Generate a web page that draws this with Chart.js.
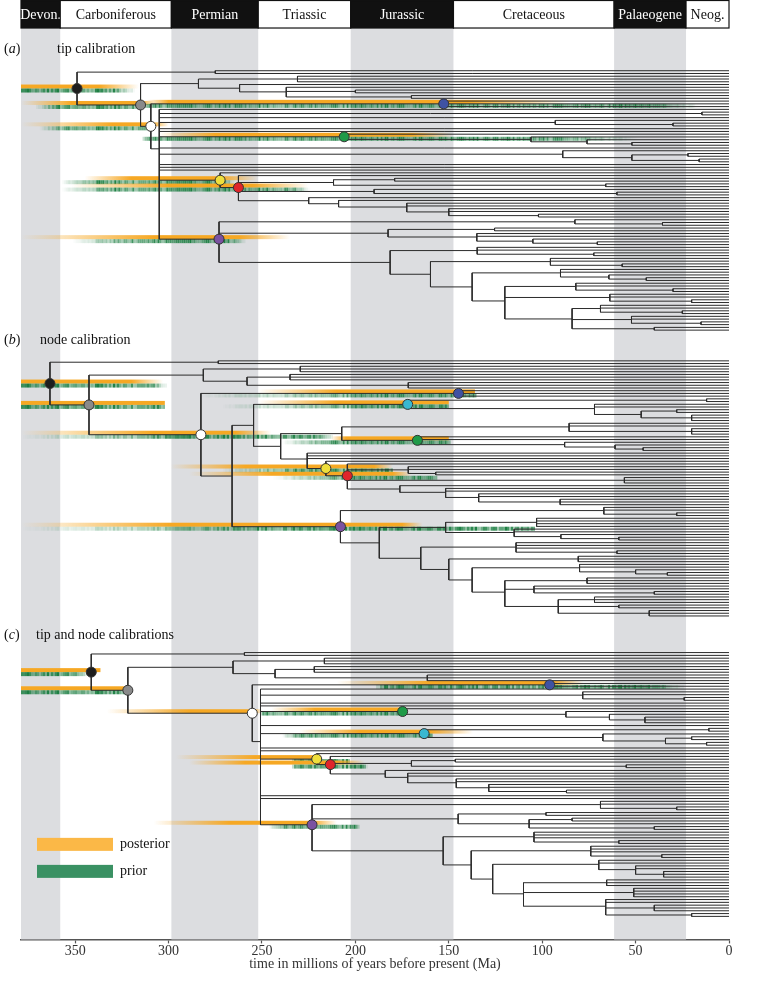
<!DOCTYPE html>
<html>
<head>
<meta charset="utf-8">
<script src="https://cdn.jsdelivr.net/npm/chart.js@4.4.0/dist/chart.umd.min.js"></script>
<style>
  html, body { margin: 0; padding: 0; background: #fff; }
</style>
</head>
<body>
<canvas id="timeTree" width="781" height="981"></canvas>
<script>
// geological periods (Ma, as drawn in the header)
const periodNames = ['Devon.', 'Carboniferous', 'Permian', 'Triassic', 'Jurassic', 'Cretaceous', 'Palaeogene', 'Neog.'];
const periodOld   = [379, 358, 298.5, 252, 202.5, 147.5, 61.5, 23];
const periodYoung = [358, 298.5, 252, 202.5, 147.5, 61.5, 23, 0];
const xTicks = [350, 300, 250, 200, 150, 100, 50, 0];

const panelLetters = ['a', 'b', 'c'];
const panelTitles = ['tip calibration', 'node calibration', 'tip and node calibrations'];

// trees: [node age (Ma), child, child, ...], 0 = extant tip
const treeA = [349,
  [275, 0, 0],
  [315,
    [284, [231, 0, 0, 0], [262, 0, [237, 0, [200, 0, 0], [170, 0, 0]]]],
    [309.5,
      [152.7, 0, 0, 0],
      [305, 0, [14.5, 0, 0], 0, [93, 0, [30, 0, 0]], 0, 0,
        [206, 0, [106, 0, [76, 0, [52, 0, 0]]]],
        0,
        [89, 0, [52, [22, 0, 0], [16, 0, 0]]],
        0, 0, 0,
        [272.4, 0,
          [262.6, 0,
            [211.7, [179, 0, 0], [66, 0, 0]],
            [190, 0, [60, 0, 0]],
            [225, 0, [209, 0, [172.5, 0, 0, [150, 0, 0, [102, 0, 0]]]]]]],
        [273,
          [82.5, 0, [35.6, 0, 0]],
          [182.5, [125.5, 0, 0], [135, 0, 0, [105, 0, [70.5, 0, 0]]]],
          [181.4,
            [134.8, 0, 0, [72.4, 0, 0]],
            [159.8,
              [95.6, 0, 0, [57.2, 0, 0]],
              [137.5,
                [90.2, 0, 0, [64.3, 0, [44.3, 0, 0]]],
                [120,
                  [82, 0, 0, [30, 0, 0]],
                  [63.8, 0, 0, [20, 0, 0]],
                  [84, [68.8, 0, 0, [25, 0, 0]], [52.2, 0, 0, [15, 0, 0]], [40, 0, 0]]]]]]]]]]];

const treeB = [363.5,
  [273.4, 0, 0],
  [342.6,
    [281.4, [229.5, 0, 0, 0], [258, [235, 0, 0, 0], [171.7, 0, 0, 0]]],
    [282.7,
      [144.8, 0, 0, 0],
      [266,
        [254.5,
          [172, [12, 0, 0], [72, 0, 0, [47, [28, 0, 0], [20, 0, 0, 0]]]],
          [240,
            [207.3, [85.6, 0, 0, [20, 0, 0, 0]], [166.8, 0, 0, [88, 0, [61, 0, [46, 0, 0]]]]],
            [225.8, 0, 0, 0,
              [215.8, 0,
                [204.3, 0, [171.7, 0, 0, [157, 0, 0]], [56, 0, 0, 0],
                  [176.2, 0, [151.7, 0, 0, [134, 0, 0, [90.4, 0, 0, 0]]]]]]]]],
        [208,
          [67, 0, 0, [28, 0, 0]],
          [187.2,
            [151.7, [103, 0, 0, 0, 0], [115, 0, 0, [90, 0, [59, 0, 0]]]],
            [165,
              [114, 0, 0, 0, [60, 0, 0]],
              [150,
                [80.7, 0, 0, 0],
                [137.5,
                  [80, 0, 0, [50, 0, [33, 0, 0]]],
                  [120, [76, 0, 0, 0], [104.4, 0, 0, [40, 0, 0]],
                    [91.4, [72, 0, 0, 0], [59, 0, 0], [42.7, 0, 0, 0]]]]]]]]]]]];

const treeC = [341.4,
  [259.4, 0, 0],
  [321.8,
    [265.5, [216.6, 0, 0, 0], [243, [222, 0, 0, 0], [161.5, 0, 0, 0]]],
    [255.2,
      [96, 0, 0],
      [250.8, 0, [78.3, 0, 0, [24, 0, 0]], 0, 0,
        [174.7, 0, [87.3, 0, [64, 0, [45, 0, 0, 0]]]],
        0,
        [163.2, [10.8, 0, 0], [67.5, 0, [34, [20, 0, 0], [12, 0, 0]]]],
        0, 0,
        [220.7, 0,
          [213.4, 0, [170, [146.5, 0, 0], [55, 0, 0]],
            [184, 0, [172, 0, 0, [146, 0, 0, [128.6, 0, 0, [87, 0, 0]]]]]]],
        0, 0,
        [223.2,
          [68.8, 0, 0, [28, 0, 0]],
          [145, [98, 0, 0], [107, [84, 0, 0], 0, [40, 0, 0]]],
          [153,
            [104.4, 0, 0, 0, [59, 0, 0]],
            [138,
              [74, 0, 0, 0, [36, 0, 0]],
              [126.5,
                [69.7, 0, 0, [50, 0, 0, [35, 0, 0, 0]]],
                [110, [65.5, 0, 0, 0], [51, 0, 0, 0, 0], [66, 0, 0, [40, 0, 0, 0], [20, 0, 0]]]]]]]]]]];

// calibrated nodes (ages of the marked nodes, null = not marked in that panel)
const calNames = ['black', 'grey', 'white', 'blue', 'green', 'cyan', 'yellow', 'red', 'purple'];
const calAgeA = [349, 315, 309.5, 152.7, 206, null, 272.4, 262.6, 273];
const calAgeB = [363.5, 342.6, 282.7, 144.8, 166.8, 172, 215.8, 204.3, 208];
const calAgeC = [341.4, 321.8, 255.2, 96, 174.7, 163.2, 220.7, 213.4, 223.2];

// age densities: [fade starts, solid from, solid to, fade ends] in Ma
const postA = [[379,379,337,316],[379,352,314,308],[379,330,309,300],[312,300,140,85],[305,275,170,148],null,[345,320,272,252],[352,300,255,225],[379,308,262,235]];
const priorA = [[379,379,330,318],[372,360,316,314],[370,355,312,309],[315,312,40,17],[315,312,90,50],null,[358,340,272,265],[358,330,235,225],[352,320,268,259]];
const postB = [[379,379,320,303],[379,379,302,302],[379,308,264,245],[252,210,136,136],[213,205,150,150],[252,210,150,150],[299,259,190,180],[289,245,180,170],[379,299,175,164]];
const priorB = [[379,379,310,301],[379,379,302,302],[379,300,220,212],[284,190,136,136],[240,213,150,150],[272,195,150,150],[272,235,180,180],[245,205,157,157],[379,250,104,104]];
const postC = [[379,379,337,336],[379,379,323,322],[333,289,255,250],[210,160,94,78],[245,222,175,172],[230,198,160,137],[296,254,220,218],[289,259,210,195],[308,267,223,210]];
const priorC = [[379,379,350,342],[379,379,323,322],null,[190,185,40,24],[252,250,175,174],[240,230,160,159],[235,232,203,203],[235,232,196,194],[247,240,200,198]];

// layout (design px)
const HEADER = [0.5, 28];
const AXIS_Y = 939;
const panelSpan = [[70.7, 330], [360.7, 615.7], [652.3, 916]];
const panelLabelY = [49, 340, 635];
const panelTitleX = [57, 40, 36];

const SERIF = "'Liberation Serif', 'DejaVu Serif', serif";
const nodeFill = {
  black: '#1e1e1e', grey: '#8a8a8a', white: '#ffffff', blue: '#3f52a3', green: '#1f9a48',
  cyan: '#3ab8d0', yellow: '#efdf3c', red: '#e0242b', purple: '#7b52a1'
};
const ORANGE = [246, 168, 36];
const GREEN = [28, 126, 66];

function tipCount(n) {
  return n === 0 ? 1 : n.slice(1).reduce((s, c) => s + tipCount(c), 0);
}

// lays a tree out: tips evenly spaced, node y = mean of its children
function layoutTree(tree, span) {
  const gap = (span[1] - span[0]) / (tipCount(tree) - 1);
  let row = 0;
  const pts = [], nodes = [];
  const seg = (x1, y1, x2, y2) => pts.push({x: x1, y: y1}, {x: x2, y: y2}, {x: null, y: null});
  (function walk(n, parentAge) {
    let age, y;
    if (n === 0) {
      age = 0;
      y = span[0] + gap * row++;
    } else {
      age = n[0];
      const ys = n.slice(1).map(c => walk(c, age));
      y = ys.reduce((s, v) => s + v, 0) / ys.length;
      seg(age, Math.min(...ys), age, Math.max(...ys));
      nodes.push({age, y});
    }
    if (parentAge !== undefined) seg(age, y, parentAge, y);
    return y;
  })(tree);
  return {pts, nodes};
}

const panels = [
  {tree: treeA, ages: calAgeA, post: postA, prior: priorA},
  {tree: treeB, ages: calAgeB, post: postB, prior: priorB},
  {tree: treeC, ages: calAgeC, post: postC, prior: priorC}
].map((p, i) => {
  const lay = layoutTree(p.tree, panelSpan[i]);
  const marks = [];
  p.ages.forEach((age, k) => {
    if (age === null) return;
    const node = lay.nodes.find(n => n.age === age);
    if (node) marks.push({x: node.age, y: node.y, name: calNames[k], post: p.post[k], prior: p.prior[k]});
  });
  return {pts: lay.pts, marks};
});

const rgba = (c, a) => `rgba(${c[0]},${c[1]},${c[2]},${a})`;
const streak = i => { const s = Math.sin(i * 127.1 + 11.7) * 43758.5453; return s - Math.floor(s); };

function densityBar(ctx, xs, top, h, ages, col, streaky) {
  const p = ages.map(a => xs.getPixelForValue(a));
  const w = p[3] - p[0];
  if (w <= 0) return;
  if (!streaky) {
    const g = ctx.createLinearGradient(p[0], 0, p[3], 0);
    g.addColorStop(0, rgba(col, p[1] > p[0] ? 0 : 1));
    g.addColorStop(Math.min(1, (p[1] - p[0]) / w), rgba(col, 1));
    g.addColorStop(Math.min(1, (p[2] - p[0]) / w), rgba(col, 1));
    g.addColorStop(1, rgba(col, p[3] > p[2] ? 0 : 1));
    ctx.fillStyle = g;
    ctx.fillRect(p[0], top, w, h);
    return;
  }
  for (let px = p[0]; px < p[3]; px += 2) {
    let env = 1;
    if (px < p[1]) env = (px - p[0]) / (p[1] - p[0]);
    else if (px > p[2]) env = (p[3] - px) / (p[3] - p[2]);
    const k = streak(Math.round(px / 2));
    ctx.fillStyle = rgba(col, Math.max(0, env) * (0.4 + 0.6 * k));
    ctx.fillRect(px, top, 2, h);
  }
}

const figurePlugin = {
  id: 'figure',
  beforeDatasetsDraw(chart) {
    const {ctx, chartArea: area, scales: {x, y}} = chart;
    ctx.save();
    // shaded periods
    ctx.fillStyle = '#dcdde0';
    periodOld.forEach((old, i) => {
      if (i % 2) return;
      const l = x.getPixelForValue(old), r = x.getPixelForValue(periodYoung[i]);
      const t = y.getPixelForValue(HEADER[1]);
      ctx.fillRect(l, t, r - l, area.bottom - t);
    });
    // posterior / prior densities
    ctx.beginPath();
    ctx.rect(area.left, area.top, area.right - area.left, area.bottom - area.top);
    ctx.clip();
    panels.forEach(pan => pan.marks.forEach(m => {
      const yy = y.getPixelForValue(m.y);
      if (m.post) densityBar(ctx, x, yy - 4, 4, m.post, ORANGE, false);
      if (m.prior) densityBar(ctx, x, yy, 4, m.prior, GREEN, true);
    }));
    ctx.restore();
  },
  afterDraw(chart) {
    const {ctx, chartArea: area, scales: {x, y}} = chart;
    ctx.save();
    // period header
    const t = y.getPixelForValue(HEADER[0]), b = y.getPixelForValue(HEADER[1]);
    ctx.font = `14px ${SERIF}`;
    ctx.textAlign = 'center';
    ctx.textBaseline = 'middle';
    periodOld.forEach((old, i) => {
      const l = x.getPixelForValue(old), r = x.getPixelForValue(periodYoung[i]);
      const dark = i % 2 === 0;
      ctx.fillStyle = dark ? '#111' : '#fff';
      ctx.fillRect(l, t, r - l, b - t);
      ctx.strokeStyle = '#111';
      ctx.lineWidth = 1.2;
      ctx.strokeRect(l, t, r - l, b - t);
      ctx.fillStyle = dark ? '#fff' : '#111';
      ctx.fillText(periodNames[i], (l + r) / 2, (t + b) / 2 + 1);
    });
    // panel labels
    ctx.textAlign = 'left';
    ctx.fillStyle = '#111';
    panelLetters.forEach((letter, i) => {
      const yy = y.getPixelForValue(panelLabelY[i]);
      let px = 4;
      ctx.font = `14px ${SERIF}`;
      ctx.fillText('(', px, yy); px += ctx.measureText('(').width;
      ctx.font = `italic 14px ${SERIF}`;
      ctx.fillText(letter, px, yy); px += ctx.measureText(letter).width;
      ctx.font = `14px ${SERIF}`;
      ctx.fillText(')', px, yy);
      ctx.fillText(panelTitles[i], panelTitleX[i], yy);
    });
    // legend
    const legend = [['posterior', '#fbb847', 844], ['prior', '#3a9163', 871]];
    legend.forEach(([label, col, ly]) => {
      const yy = y.getPixelForValue(ly);
      ctx.fillStyle = col;
      ctx.fillRect(area.left + 16, yy - 6.5, 76, 13);
      ctx.fillStyle = '#111';
      ctx.font = `14px ${SERIF}`;
      ctx.fillText(label, area.left + 99, yy);
    });
    ctx.restore();
  }
};

const datasets = [];
panels.forEach((pan, i) => {
  datasets.push({
    label: 'tree ' + panelLetters[i],
    data: pan.pts,
    borderColor: '#2b2b2b',
    borderWidth: 1,
    pointRadius: 0,
    spanGaps: false,
    order: 2
  });
  datasets.push({
    label: 'calibrated nodes ' + panelLetters[i],
    data: pan.marks.map(m => ({x: m.x, y: m.y})),
    showLine: false,
    pointRadius: 5,
    pointBorderWidth: 1,
    pointBorderColor: '#333',
    pointBackgroundColor: pan.marks.map(m => nodeFill[m.name]),
    order: 1
  });
});

new Chart(document.getElementById('timeTree'), {
  type: 'line',
  data: { datasets },
  options: {
    responsive: false,
    animation: false,
    events: [],
    layout: { autoPadding: false, padding: { left: 21, right: 52, top: 0, bottom: 8 } },
    plugins: { legend: { display: false }, tooltip: { enabled: false } },
    scales: {
      x: {
        type: 'linear',
        reverse: true,
        min: 0,
        max: 379,
        afterBuildTicks: s => { s.ticks = xTicks.map(v => ({value: v})); },
        border: { color: '#555', width: 1.5 },
        grid: { drawOnChartArea: false, drawTicks: true, tickLength: 4, color: '#555', tickWidth: 1.2 },
        ticks: { autoSkip: false, maxRotation: 0, padding: 0, color: '#333', font: { family: SERIF, size: 14 } },
        title: {
          display: true,
          text: 'time in millions of years before present (Ma)',
          color: '#333',
          font: { family: SERIF, size: 14 },
          padding: { top: -4, bottom: 0 }
        }
      },
      y: { type: 'linear', reverse: true, min: 0, max: AXIS_Y, display: false }
    }
  },
  plugins: [figurePlugin]
});
</script>
</body>
</html>
